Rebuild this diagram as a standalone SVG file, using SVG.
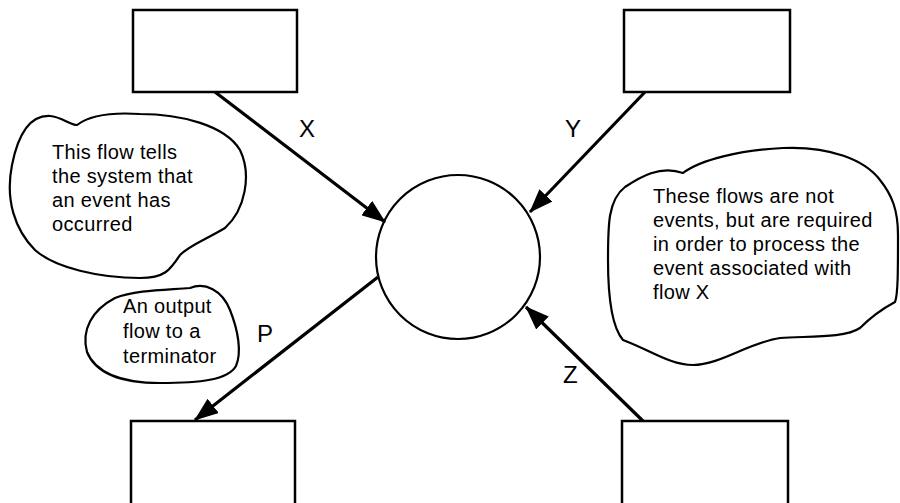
<svg xmlns="http://www.w3.org/2000/svg" width="900" height="503" viewBox="0 0 900 503">
<style>
.box{fill:#fff;stroke:#000;stroke-width:2.5}
.proc{fill:#fff;stroke:#000;stroke-width:2.2}
.cloud{fill:#fff;stroke:#000;stroke-width:2.2;stroke-linejoin:round}
.flow{fill:none;stroke:#000;stroke-width:3.2}
.note{font-family:"Liberation Sans",Arial,sans-serif;font-size:20px;letter-spacing:0.35px;fill:#000}
.lbl{font-family:"Liberation Sans",Arial,sans-serif;font-size:24px;fill:#000}
</style>
<defs>
<marker id="ah" viewBox="0 0 24 18" refX="23" refY="9" markerWidth="24" markerHeight="18" markerUnits="userSpaceOnUse" orient="auto">
<path d="M0,0 L24,9 L0,18 Z" fill="#000"/>
</marker>
</defs>
<rect width="900" height="503" fill="#fff"/>
<g id="term-top-left"><rect class="box" x="133" y="10" width="164" height="82"/></g>
<g id="term-top-right"><rect class="box" x="624" y="10" width="166" height="82"/></g>
<g id="term-bottom-left"><rect class="box" x="131" y="421" width="164" height="100"/></g>
<g id="term-bottom-right"><rect class="box" x="622" y="421" width="166" height="100"/></g>
<g id="process"><circle class="proc" cx="458" cy="257" r="82"/></g>
<g id="note-event">
<path class="cloud" d="M 77 125 C 90 115, 110 112, 140 114 C 180 114, 225 125, 240 150 C 252 175, 245 210, 225 228 C 205 240, 190 245, 180 255 C 170 270, 165 278, 140 278 C 100 278, 55 268, 35 250 C 15 230, 5 200, 12 165 C 18 135, 30 115, 50 116 C 62 117, 70 125, 77 125 Z"/>
<text class="note" x="52" y="159">This flow tells</text>
<text class="note" x="52" y="183">the system that</text>
<text class="note" x="52" y="207">an event has</text>
<text class="note" x="52" y="231">occurred</text>
</g>
<g id="note-nonevent">
<path class="cloud" d="M 683 173 C 700 160, 740 150, 783 148 C 830 146, 865 160, 880 180 C 892 195, 898 210, 898 235 C 898 270, 898 295, 895 302 C 880 310, 870 318, 860 328 C 845 338, 810 336, 780 338 C 750 342, 720 365, 693 365 C 670 365, 650 350, 623 340 C 610 325, 608 290, 608 260 C 608 225, 608 200, 625 187 C 640 177, 660 165, 683 173 Z"/>
<text class="note" x="653" y="203">These flows are not</text>
<text class="note" x="653" y="227">events, but are required</text>
<text class="note" x="653" y="251">in order to process the</text>
<text class="note" x="653" y="275">event associated with</text>
<text class="note" x="653" y="299">flow X</text>
</g>
<g id="note-output">
<path class="cloud" d="M 190 288 C 205 282, 222 290, 230 310 C 238 330, 242 352, 236 366 C 228 380, 200 383, 160 383 C 120 383, 95 372, 87 352 C 81 330, 92 310, 115 298 C 135 290, 165 290, 190 288 Z"/>
<text class="note" x="123" y="313">An output</text>
<text class="note" x="123" y="338">flow to a</text>
<text class="note" x="123" y="363">terminator</text>
</g>
<g id="connectors">
<line class="flow" x1="215" y1="92" x2="385" y2="222" marker-end="url(#ah)"/>
<line class="flow" x1="645" y1="92" x2="530" y2="212" marker-end="url(#ah)"/>
<line class="flow" x1="378" y1="277" x2="195" y2="420" marker-end="url(#ah)"/>
<line class="flow" x1="643" y1="421" x2="526" y2="307" marker-end="url(#ah)"/>
<text class="lbl" x="299" y="137">X</text>
<text class="lbl" x="565" y="137">Y</text>
<text class="lbl" x="257" y="342">P</text>
<text class="lbl" x="563" y="383">Z</text>
</g>
</svg>
